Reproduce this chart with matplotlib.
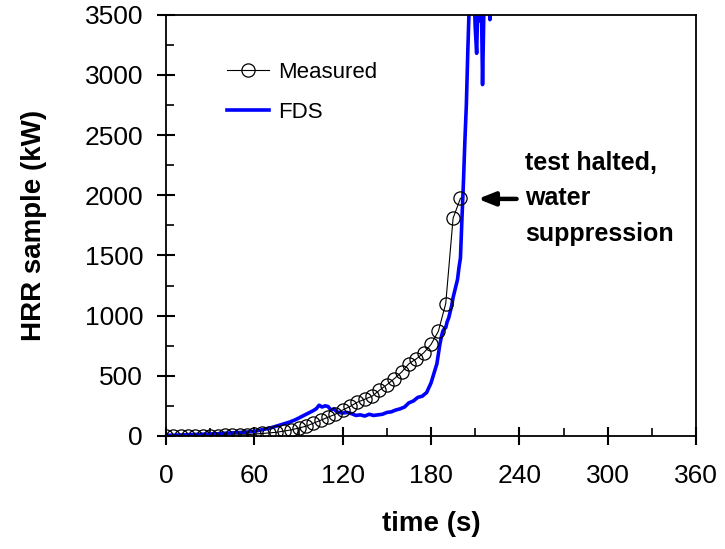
import matplotlib
matplotlib.use('Agg')
import matplotlib.pyplot as plt
from matplotlib.ticker import MultipleLocator

plt.rcParams['font.family'] = ['Liberation Sans', 'DejaVu Sans']

# measured HRR, one point every 5 s
meas_t = [0, 5, 10, 15, 20, 25, 30, 35, 40, 45, 50, 55, 60, 65, 70, 75, 80, 85, 90, 95,
          100, 105, 110, 115, 120, 125, 130, 135, 140, 145, 150, 155, 160, 165, 170, 175,
          180, 185, 190, 195, 200]
meas_hrr = [0, 0, 0, 0, 0, 0, 2, 3, 5, 5, 8, 10, 15, 20, 25, 30, 40, 50, 65, 80,
            105, 130, 155, 180, 215, 245, 280, 305, 330, 380, 425, 475, 530, 600, 640, 690,
            760, 870, 1100, 1810, 1975]

# FDS prediction
fds_t = [0, 5, 10, 15, 20, 25, 30, 35, 40, 45, 50, 55, 60, 64, 68, 72, 76, 80, 84, 88,
         92, 96, 100, 102, 104, 106, 108, 110, 112, 114, 116, 118, 120, 123, 126, 129, 132,
         135, 138, 141, 144, 147, 150, 153, 156, 159, 162, 165, 168, 171, 174, 177, 180,
         182, 184, 186, 187, 188, 189, 190, 191, 192, 193, 194, 195, 196, 197, 198, 199,
         200, 201, 202, 203, 204, 205, 206, 207, 208, 209, 210, 211, 212, 213, 214, 215,
         216, 217, 218, 219, 220, 221]
fds_hrr = [5, 6, 8, 10, 12, 14, 16, 18, 22, 25, 28, 32, 38, 48, 58, 70, 85, 100, 115, 135,
           160, 185, 210, 225, 255, 240, 250, 245, 215, 225, 200, 195, 190, 195, 185, 170, 175,
           165, 180, 170, 175, 180, 195, 200, 215, 225, 240, 275, 290, 320, 330, 360, 440,
           520, 600, 760, 820, 870, 890, 900, 950, 980, 1030, 1080, 1150, 1200, 1250, 1300, 1400,
           1480, 1800, 2100, 2450, 2750, 3200, 3600, 3750, 3550, 3800, 3400, 3180, 3700, 3450, 3800, 2920,
           3600, 3800, 4000, 3700, 3460, 3900]

fig = plt.figure(figsize=(7.25, 5.49), dpi=100)
ax = fig.add_axes([0.229, 0.206, 0.731, 0.767])

ax.plot(fds_t, fds_hrr, color='#0000ff', lw=2.6, label='FDS', zorder=2)
ax.plot(meas_t, meas_hrr, color='black', lw=0.8, marker='o', ms=9.5, mfc='none',
        mec='black', mew=0.9, label='Measured', zorder=3)

ax.set_xlim(0, 360)
ax.set_ylim(0, 3500)
ax.xaxis.set_major_locator(MultipleLocator(60))
ax.xaxis.set_minor_locator(MultipleLocator(30))
ax.yaxis.set_major_locator(MultipleLocator(500))
ax.yaxis.set_minor_locator(MultipleLocator(250))
ax.tick_params(which='major', direction='inout', length=13, width=1.5, labelsize=19)
ax.tick_params(axis='y', which='major', pad=10)
ax.tick_params(axis='x', which='major', pad=14)
ax.tick_params(which='minor', direction='in', length=6, width=1.2)
for s in ax.spines.values():
    s.set_linewidth(1.3)

ax.set_xlabel('time (s)', fontsize=20, fontweight='bold', labelpad=16)
ax.set_ylabel('HRR sample (kW)', fontsize=20, fontweight='bold', labelpad=27)

# legend: Measured first, then FDS
h, l = ax.get_legend_handles_labels()
ax.legend(h[::-1], l[::-1], loc='upper left', bbox_to_anchor=(0.115, 0.888), frameon=False,
          fontsize=16, borderpad=0, borderaxespad=0, handlelength=1.9, handletextpad=0.4,
          labelspacing=0.85)

ax.annotate('', xy=(210, 1970), xytext=(240, 1970),
            arrowprops=dict(arrowstyle='-|>,head_length=1.0,head_width=0.4', color='black', lw=3.2))
ax.text(244, 1975, 'test halted,\nwater\nsuppression', fontsize=18, fontweight='bold',
        ha='left', va='center', linespacing=1.6)

fig.savefig('out.png', dpi=100)
